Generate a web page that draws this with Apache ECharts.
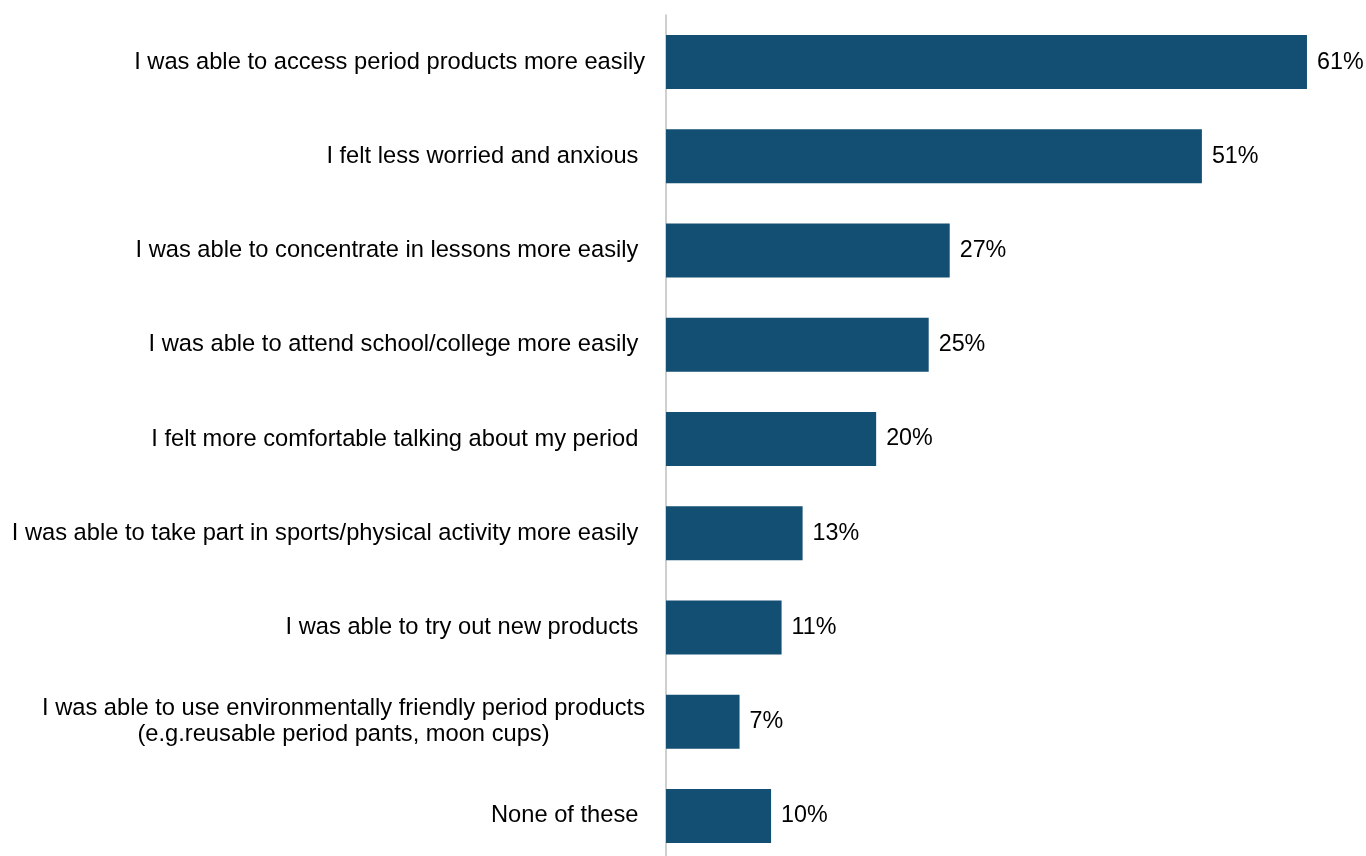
<!DOCTYPE html>
<html>
<head>
<meta charset="utf-8">
<title>Impact of free period products</title>
<script src="https://cdn.jsdelivr.net/npm/echarts@6/dist/echarts.min.js"></script>
<style>
  html, body { margin: 0; padding: 0; background: #ffffff; overflow: hidden; }
  #chart { width: 1366px; height: 870px; }
</style>
</head>
<body>
<div id="chart"></div>
<script>
// Survey responses, top to bottom
const categories = [
  'I was able to access period products more easily',
  'I felt less worried and anxious ',
  'I was able to concentrate in lessons more easily ',
  'I was able to attend school/college more easily ',
  'I felt more comfortable talking about my period ',
  'I was able to take part in sports/physical activity more easily ',
  'I was able to try out new products ',
  'I was able to use environmentally friendly period products\n(e.g.reusable period pants, moon cups)',
  'None of these '
];
const percentages = [61, 51, 27, 25, 20, 13, 11, 7, 10];

const chart = echarts.init(document.getElementById('chart'));
const font = '"Liberation Sans", Arial, sans-serif';
const labelSize = 23.7;

chart.setOption({
  animation: false,
  grid: { left: 666, right: 17, top: 15, height: 848, containLabel: false },
  xAxis: {
    type: 'value',
    min: 0,
    max: 65,
    show: false
  },
  yAxis: {
    type: 'category',
    inverse: true,
    data: categories,
    axisTick: { show: false },
    axisLine: { show: true, lineStyle: { color: '#bfbfbf', width: 1.5 } },
    axisLabel: {
      margin: 21,
      fontFamily: font,
      fontSize: labelSize,
      color: '#000000',
      lineHeight: 26,
      formatter: function (v) {
        return v.split('\n').map(function (s) { return '{c|' + s + '}'; }).join('\n');
      },
      rich: {
        c: { align: 'center', fontFamily: font, fontSize: labelSize, color: '#000000', lineHeight: 26 }
      }
    },
    splitLine: { show: false }
  },
  series: [{
    type: 'bar',
    data: percentages,
    barWidth: 54,
    itemStyle: { color: '#124f73' },
    label: {
      show: true,
      position: 'right',
      distance: 10,
      fontFamily: font,
      fontSize: 23.3,
      color: '#000000',
      formatter: '{c}%'
    }
  }]
});
</script>
</body>
</html>
